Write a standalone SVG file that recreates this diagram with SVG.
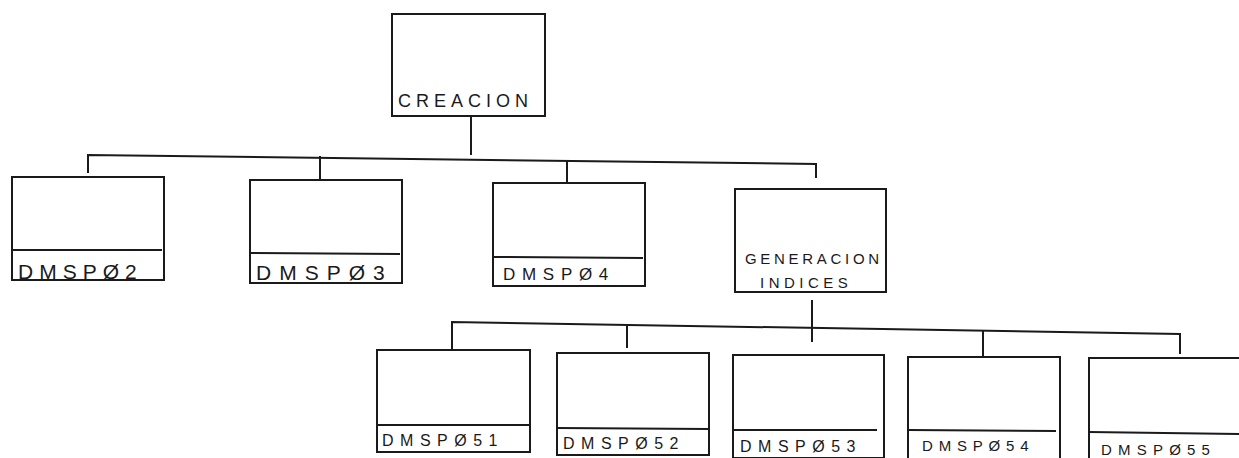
<svg xmlns="http://www.w3.org/2000/svg" width="1239" height="458" viewBox="0 0 1239 458">
<style>
.box{fill:none;stroke:#1a1a1a;stroke-width:2}
.div{stroke:#1a1a1a;stroke-width:2}
.con{fill:none;stroke:#1a1a1a;stroke-width:2}
.lbl{font-family:"Liberation Sans",Arial,sans-serif;fill:#1a1a1a}
</style>
<rect width="1239" height="458" fill="#fff"/>
<g id="connectors">
<path class="con" d="M471 117 V155"/>
<path class="con" d="M88 173 V155 L816 164 V178"/>
<path class="con" d="M320 156 V180"/>
<path class="con" d="M567 160 V183"/>
<path class="con" d="M812 300 V342"/>
<path class="con" d="M452 350 V322 L1180 334 V354"/>
<path class="con" d="M627 326 V348"/>
<path class="con" d="M983 331 V356"/>
</g>
<g id="creacion">
<rect class="box" x="392" y="14" width="153" height="102"/>
<text class="lbl" x="398" y="107" style="font-size:18px;letter-spacing:5px">CREACION</text>
</g>
<g id="dmsp02">
<rect class="box" x="12" y="177" width="152" height="103"/>
<line class="div" x1="12" y1="250" x2="162" y2="250"/>
<text class="lbl" x="18" y="279" style="font-size:21px;letter-spacing:6px">DMSPØ2</text>
</g>
<g id="dmsp03">
<rect class="box" x="250" y="180" width="152" height="103"/>
<line class="div" x1="250" y1="253" x2="400" y2="254"/>
<text class="lbl" x="256" y="280" style="font-size:21px;letter-spacing:8px">DMSPØ3</text>
</g>
<g id="dmsp04">
<rect class="box" x="493" y="183" width="152" height="103"/>
<line class="div" x1="493" y1="257" x2="643" y2="258"/>
<text class="lbl" x="503" y="280" style="font-size:17px;letter-spacing:6.7px">DMSPØ4</text>
</g>
<g id="generacion">
<rect class="box" x="735" y="189" width="151" height="103"/>
<text class="lbl" x="745" y="264" style="font-size:15px;letter-spacing:3.7px">GENERACION</text>
<text class="lbl" x="760" y="288" style="font-size:15px;letter-spacing:4.5px">INDICES</text>
</g>
<g id="dmsp051">
<rect class="box" x="377" y="350" width="153" height="102"/>
<line class="div" x1="377" y1="425" x2="530" y2="425"/>
<text class="lbl" x="382" y="446" style="font-size:16px;letter-spacing:6.5px">DMSPØ51</text>
</g>
<g id="dmsp052">
<rect class="box" x="557" y="353" width="152" height="102"/>
<line class="div" x1="557" y1="428" x2="709" y2="429"/>
<text class="lbl" x="563" y="449" style="font-size:16px;letter-spacing:6.5px">DMSPØ52</text>
</g>
<g id="dmsp053">
<rect class="box" x="733" y="355" width="151" height="103"/>
<line class="div" x1="733" y1="430" x2="877" y2="430"/>
<text class="lbl" x="740" y="452" style="font-size:16px;letter-spacing:6.5px">DMSPØ53</text>
</g>
<g id="dmsp054">
<rect class="box" x="908" y="357" width="152" height="103"/>
<line class="div" x1="908" y1="430" x2="1056" y2="431"/>
<text class="lbl" x="922" y="451" style="font-size:15px;letter-spacing:5.8px">DMSPØ54</text>
</g>
<g id="dmsp055">
<rect class="box" x="1089" y="358" width="152" height="103"/>
<line class="div" x1="1089" y1="432" x2="1239" y2="434"/>
<text class="lbl" x="1101" y="455" style="font-size:15px;letter-spacing:6.2px">DMSPØ55</text>
</g>
</svg>
